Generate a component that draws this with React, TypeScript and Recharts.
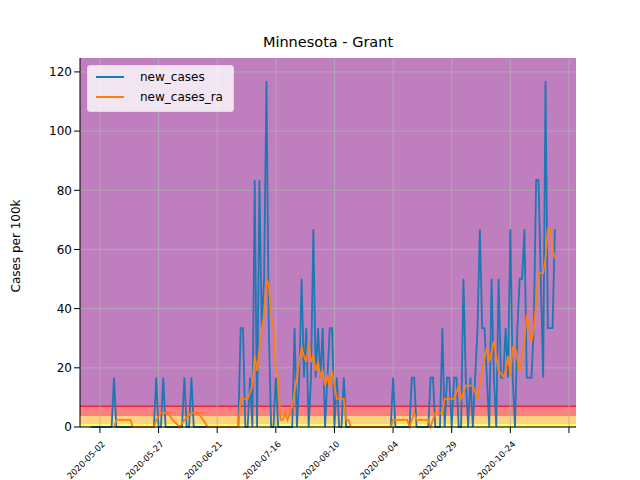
import React from 'react';
import {
  ComposedChart, Line, XAxis, YAxis, ReferenceArea, ReferenceLine,
} from 'recharts';

// day 0 = 2020-04-28; one case = 16.7 per 100k
const PER_CASE = 16.7;
const LAST_DAY = 198;
const caseDays: [number, number][] = [
  [10, 1], [28, 1], [31, 1], [40, 1], [43, 1],
  [64, 2], [65, 2], [68, 1], [70, 5], [72, 5], [73, 2], [74, 3], [75, 7], [76, 2], [79, 1],
  [87, 2], [89, 1], [90, 3], [91, 1], [92, 2], [94, 1], [95, 4], [96, 1], [97, 2], [98, 1],
  [99, 2], [101, 1], [102, 2], [103, 2], [105, 1], [108, 1],
  [129, 1], [137, 1], [138, 1], [145, 1], [146, 1], [150, 2], [152, 1], [153, 1], [155, 1],
  [156, 1], [159, 3], [160, 1], [162, 1], [164, 1], [165, 2], [166, 4], [167, 2], [168, 2],
  [169, 1], [171, 3], [172, 1], [174, 3], [175, 1], [176, 1], [177, 2], [178, 1], [179, 4],
  [180, 1], [182, 2], [183, 3], [184, 3], [185, 4], [186, 1], [187, 1], [188, 1], [189, 2],
  [190, 5], [191, 5], [192, 3], [193, 1], [194, 7], [195, 2], [196, 2], [197, 2], [198, 4],
];
const avgPoints: [number, number][] = [
  [10, 0], [11, 2.4], [17, 2.4], [18, 0], [27, 0], [28, 2.4], [30, 4.8], [33, 4.8], [35, 2.4],
  [38, 0], [40, 2.4], [43, 4.8], [46, 4.8], [48, 2.4], [50, 0], [63, 0], [64, 9.5], [67, 9.5],
  [69, 14], [70, 24], [71, 19], [73, 33], [74, 38], [75, 50], [76, 48], [77, 38], [78, 33],
  [79, 19], [80, 17], [81, 2.4], [82, 2.4], [83, 4.8], [84, 2.4], [86, 7], [88, 17], [89, 22],
  [90, 27], [91, 24], [92, 22], [93, 29], [94, 22], [95, 24], [96, 19], [97, 22], [98, 17],
  [99, 19], [100, 14], [101, 17], [102, 14], [103, 19], [104, 14], [105, 9.5], [108, 9.5],
  [109, 2.4], [110, 2.4], [111, 0], [128, 0], [129, 2.4], [135, 2.4], [136, 0], [138, 4.8],
  [139, 2.4], [144, 2.4], [145, 0], [147, 4.8], [150, 4.8], [151, 9.5], [155, 9.5], [157, 14],
  [158, 9.5], [160, 14], [163, 14], [165, 9.5], [167, 19], [169, 27], [170, 22], [172, 29],
  [174, 19], [176, 17], [177, 19], [178, 24], [179, 17], [180, 27], [181, 27], [183, 19],
  [185, 29], [186, 38], [188, 29], [189, 33], [191, 52], [193, 52], [194, 57], [195, 67],
  [196, 67], [197, 60], [198, 57],
];
const tickDays = [4, 29, 54, 79, 104, 129, 154, 179, 204];
const tickLabels = ['2020-05-02', '2020-05-27', '2020-06-21', '2020-07-16', '2020-08-10',
  '2020-09-04', '2020-09-29', '2020-10-24', ''];
const yTicks = [0, 20, 40, 60, 80, 100, 120];

const caseMap = new Map(caseDays);
const avgMap = new Map(avgPoints);
const data = Array.from({ length: LAST_DAY + 1 }, (_, d) => ({
  day: d,
  new_cases: (caseMap.get(d) ?? 0) * PER_CASE,
  new_cases_ra: avgMap.has(d) ? avgMap.get(d) : null,
}));

const XTick = (props: any) => {
  const { x, y, payload } = props;
  const i = tickDays.indexOf(payload.value);
  return (
    <g transform={`translate(${x},${y + 4})`}>
      <text textAnchor="end" fontSize={8.5} fill="#000" transform="rotate(-45)" dy={8}>
        {tickLabels[i]}
      </text>
    </g>
  );
};

export default function App() {
  const font = 'DejaVu Sans, sans-serif';
  return (
    <div style={{ position: 'absolute', left: 0, top: 0, width: 640, height: 480, background: '#fff', fontFamily: font }}>
      <div style={{ position: 'absolute', top: 34, left: 80, width: 496, textAlign: 'center', fontSize: 14.5 }}>
        Minnesota - Grant
      </div>
      <ComposedChart width={640} height={480} data={data} margin={{ top: 58, right: 64, left: 0, bottom: 0 }}
        style={{ fontFamily: font }}>
        <XAxis dataKey="day" type="number" domain={[-4.5, 207]} ticks={tickDays} tick={<XTick />}
          tickLine={{ stroke: '#000' }} axisLine={{ stroke: '#000' }} height={53} interval={0} />
        <YAxis type="number" domain={[0, 124.7]} ticks={yTicks} width={80} tick={{ fill: '#000', fontSize: 12 }}
          tickLine={{ stroke: '#000' }} axisLine={{ stroke: '#000' }}
          label={{ value: 'Cases per 100k', angle: -90, position: 'insideLeft', offset: 16, dy: 50, fill: '#000', fontSize: 12 }} />
        <ReferenceArea y1={7} y2={124.7} fill="#bf7fbf" fillOpacity={1} stroke="none" />
        <ReferenceArea y1={3.7} y2={7} fill="#ff7f7f" fillOpacity={1} stroke="none" />
        <ReferenceArea y1={1} y2={3.7} fill="#ffd27f" fillOpacity={1} stroke="none" />
        <ReferenceArea y1={0} y2={1} fill="#ffff66" fillOpacity={1} stroke="none" />
        <ReferenceLine y={7} stroke="#e8283c" strokeWidth={1.5} />
        {tickDays.map((d) => <ReferenceLine key={'x' + d} x={d} stroke="#b0b0b0" strokeWidth={0.8} />)}
        {yTicks.map((v) => <ReferenceLine key={'y' + v} y={v} stroke="#b0b0b0" strokeWidth={0.8} />)}
        <Line dataKey="new_cases" stroke="#1f77b4" strokeWidth={1.8} dot={false} isAnimationActive={false} type="linear" />
        <Line dataKey="new_cases_ra" stroke="#ff7f0e" strokeWidth={1.8} dot={false} isAnimationActive={false}
          type="linear" connectNulls />
      </ComposedChart>
      <div style={{ position: 'absolute', left: 87, top: 65, width: 145, height: 45, background: 'rgba(255,255,255,0.8)',
        border: '1px solid #ddd', borderRadius: 3, fontSize: 12 }}>
        {[['new_cases', '#1f77b4'], ['new_cases_ra', '#ff7f0e']].map(([n, c], i) => (
          <div key={n} style={{ position: 'absolute', left: 8, top: 4 + i * 20, display: 'flex', alignItems: 'center' }}>
            <span style={{ display: 'inline-block', width: 28, height: 2, background: c, marginRight: 16 }} />
            {n}
          </div>
        ))}
      </div>
    </div>
  );
}
